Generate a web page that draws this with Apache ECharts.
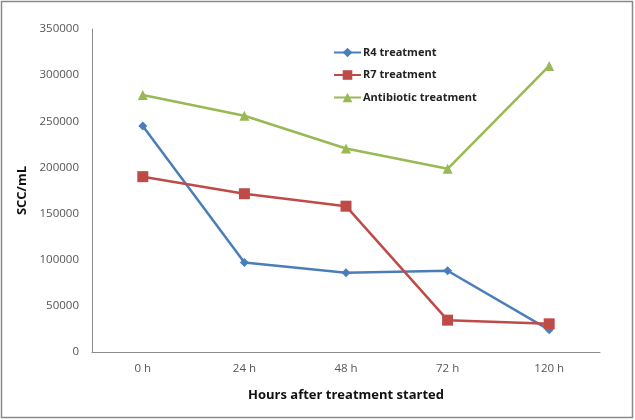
<!DOCTYPE html>
<html>
<head>
<meta charset="utf-8">
<script src="https://cdn.jsdelivr.net/npm/echarts@6/dist/echarts.min.js"></script>
<style>
html,body{margin:0;padding:0;background:#fff;}
#main{width:635px;height:420px;}
</style>
</head>
<body>
<div id="main"></div>
<script>
const categories = ['0 h', '24 h', '48 h', '72 h', '120 h'];
const r4Values = [245000, 97000, 86000, 88000, 24000];
const r7Values = [190000, 171500, 158000, 34500, 30500];
const antibioticValues = [278500, 256000, 220500, 198500, 310000];
const seriesNames = ['R4 treatment', 'R7 treatment', 'Antibiotic treatment'];

const chart = echarts.init(document.getElementById('main'), null, {renderer: 'canvas'});
const FONT = 'Open Sans';
const colors = ['#4A7EBB', '#BE4B48', '#98B954'];
const symbols = ['diamond', 'rect', 'triangle'];
const symbolSizes = [9, 11, 10];
const data = [r4Values, r7Values, antibioticValues];

chart.setOption({
  animation: false,
  backgroundColor: '#fff',
  graphic: [{
    type: 'rect',
    shape: {x: 1.5, y: 1.5, width: 631, height: 416},
    style: {fill: 'none', stroke: '#8a8a8a', lineWidth: 1.5},
    silent: true
  }],
  grid: {left: 92, right: 35, top: 29, bottom: 68, containLabel: false},
  legend: {
    orient: 'vertical',
    left: 328,
    top: 42,
    itemWidth: 27,
    itemHeight: 12,
    itemGap: 11.5,
    data: seriesNames,
    textStyle: {fontFamily: FONT, fontSize: 11, fontWeight: 'bold', color: '#222', padding: [0, 0, 0, -3]}
  },
  xAxis: {
    type: 'category',
    data: categories,
    boundaryGap: true,
    name: 'Hours after treatment started',
    nameLocation: 'middle',
    nameGap: 37,
    nameTextStyle: {fontFamily: FONT, fontSize: 13, fontWeight: 'bold', color: '#111'},
    axisLine: {lineStyle: {color: '#8c8c8c', width: 1}},
    axisTick: {show: false},
    axisLabel: {fontFamily: FONT, fontSize: 11.5, color: '#555', margin: 11}
  },
  yAxis: {
    type: 'value',
    min: 0,
    max: 350000,
    interval: 50000,
    name: 'SCC/mL',
    nameLocation: 'middle',
    nameGap: 58,
    nameRotate: 90,
    nameTextStyle: {fontFamily: FONT, fontSize: 13, fontWeight: 'bold', color: '#111'},
    axisLine: {show: true, lineStyle: {color: '#8c8c8c', width: 1}},
    axisTick: {show: false},
    splitLine: {show: false},
    axisLabel: {fontFamily: FONT, fontSize: 11.5, color: '#555', margin: 13, formatter: v => String(v)}
  },
  series: seriesNames.map((name, i) => ({
    name: name,
    type: 'line',
    data: data[i],
    symbol: symbols[i],
    symbolSize: symbolSizes[i],
    showAllSymbol: true,
    lineStyle: {color: colors[i], width: 2.5},
    itemStyle: {color: colors[i], borderWidth: 0},
    emphasis: {disabled: true}
  }))
});
</script>
</body>
</html>
